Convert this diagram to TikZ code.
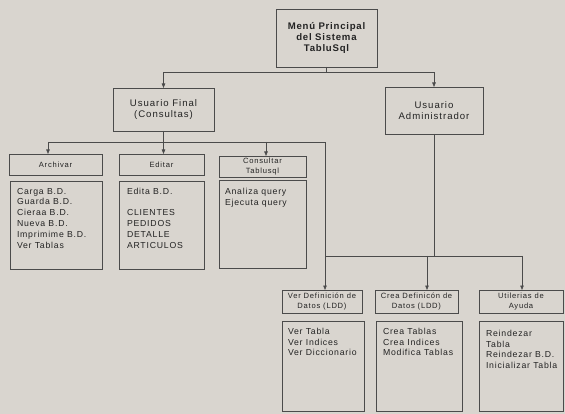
\documentclass[tikz,border=0pt]{standalone}
\usepackage{fontspec}
\setmainfont{Liberation Sans}
\newfontfamily\topfont[LetterSpace=8]{Liberation Sans}
\newfontfamily\midfont[LetterSpace=10]{Liberation Sans}
\newfontfamily\hdrfont[LetterSpace=10]{Liberation Sans}
\newfontfamily\bodyfont[LetterSpace=9]{Liberation Sans}
\usetikzlibrary{arrows.meta}
\definecolor{paper}{RGB}{217,213,207}
\definecolor{ink}{RGB}{75,75,75}
\definecolor{txt}{RGB}{35,35,35}
\tikzset{
  boxbase/.style={draw=ink, line width=0.7pt, inner sep=0pt, outer sep=0pt, text=txt, align=center},
  topbox/.style={boxbase, font=\topfont\bfseries\fontsize{9.6}{11.3}\selectfont},
  midbox/.style={boxbase, font=\midfont\fontsize{9.6}{11}\selectfont},
  hdrbox/.style={boxbase, font=\hdrfont\fontsize{7.6}{9.3}\selectfont},
  bodybox/.style={boxbase},
  bodytext/.style={anchor=north west, inner sep=0pt, outer sep=0pt, align=left, text=txt, font=\bodyfont\fontsize{8.7}{10.8}\selectfont},
  conn/.style={draw=ink, line width=0.7pt},
  arr/.style={conn, -{Triangle[length=4.5pt,width=3.5pt]}}
}
\begin{document}
\begin{tikzpicture}[x=1pt,y=-1pt]
\fill[paper] (0,0) rectangle (565,414);
\useasboundingbox (0,0) rectangle (565,414);

% top
\node[topbox, minimum width=101pt, minimum height=58pt] (top) at (326.5,38) {Menú Principal\\del Sistema\\TabluSql};
% second level
\node[midbox, minimum width=101pt, minimum height=43pt] (uf) at (163.5,109.5) {Usuario Final\\(Consultas)};
\node[midbox, minimum width=98pt, minimum height=47pt] (ua) at (434,110.5) {Usuario\\Administrador};

% upper row
\node[hdrbox, minimum width=93pt, minimum height=21pt] (archH) at (55.5,164.5) {Archivar};
\node[bodybox, minimum width=92pt, minimum height=88pt] (archB) at (56,225) {};
\node[hdrbox, minimum width=85pt, minimum height=21pt] (editH) at (161.5,164.5) {Editar};
\node[bodybox, minimum width=85pt, minimum height=88pt] (editB) at (161.5,225) {};
\node[hdrbox, minimum width=87pt, minimum height=21pt] (consH) at (262.5,166.5) {Consultar\\Tablusql};
\node[bodybox, minimum width=87pt, minimum height=88pt] (consB) at (262.5,224) {};

% lower row
\node[hdrbox, minimum width=80pt, minimum height=23pt] (verH) at (322,301.5) {Ver Definición de\\Datos (LDD)};
\node[bodybox, minimum width=82pt, minimum height=90pt] (verB) at (323,366) {};
\node[hdrbox, minimum width=83pt, minimum height=23pt] (creaH) at (416.5,301.5) {Crea Definicón de\\Datos (LDD)};
\node[bodybox, minimum width=86pt, minimum height=90pt] (creaB) at (419,366) {};
\node[hdrbox, minimum width=84pt, minimum height=23pt] (utilH) at (521,301.5) {Utilerias de\\Ayuda};
\node[bodybox, minimum width=84pt, minimum height=90pt] (utilB) at (521,366) {};

% body texts
\node[bodytext] (archT) at ([xshift=7pt,yshift=-7pt]archB.north west) {Carga B.D.\\Guarda B.D.\\Cieraa B.D.\\Nueva B.D.\\Imprimime B.D.\\Ver Tablas};
\node[bodytext] (editT) at ([xshift=8pt,yshift=-7pt]editB.north west) {Edita B.D.\\\mbox{}\\CLIENTES\\PEDIDOS\\DETALLE\\ARTICULOS};
\node[bodytext] (consT) at ([xshift=6pt,yshift=-8pt]consB.north west) {Analiza query\\Ejecuta query};
\node[bodytext] (verT) at ([xshift=6pt,yshift=-7pt]verB.north west) {Ver Tabla\\Ver Indices\\Ver Diccionario};
\node[bodytext] (creaT) at ([xshift=7pt,yshift=-7pt]creaB.north west) {Crea Tablas\\Crea Indices\\Modifica Tablas};
\node[bodytext] (utilT) at ([xshift=7pt,yshift=-9pt]utilB.north west) {Reindezar\\Tabla\\Reindezar B.D.\\Inicializar Tabla};

% connectors: top -> second level
\coordinate (j1) at (326.5,72);
\draw[conn] (top.south) -- (j1);
\draw[arr] (j1) -| (uf.north);
\draw[arr] (j1) -| (ua.north);

% Usuario Final -> upper row and Ver Definicion
\coordinate (j2) at (163.5,142);
\coordinate (ta) at (48,142);
\coordinate (tc) at (266,142);
\coordinate (tv) at (325,142);
\draw[conn] (uf.south) -- (j2);
\draw[arr] (ta) -- (tv) -- (tv |- verH.north);
\draw[arr] (ta) -- (ta |- archH.north);
\draw[arr] (j2) -- (j2 |- editH.north);
\draw[arr] (tc) -- (tc |- consH.north);

% Usuario Administrador -> lower row
\coordinate (hl) at (325,256);
\coordinate (hc) at (427,256);
\coordinate (hr) at (522,256);
\draw[conn] (ua.south) -- (ua.south |- hl);
\draw[conn] (hl) -- (hr);
\draw[arr] (hc) -- (hc |- creaH.north);
\draw[arr] (hr) -- (hr |- utilH.north);
\end{tikzpicture}
\end{document}
